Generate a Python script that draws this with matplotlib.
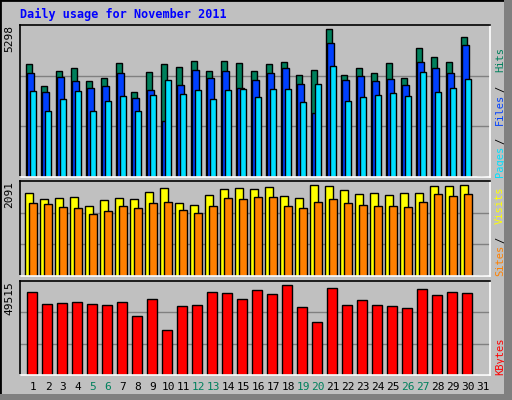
import matplotlib
matplotlib.use("Agg")
import matplotlib.pyplot as plt
from matplotlib.patches import Rectangle

# === DATA ===
days = list(range(1, 32))
weekend = [5, 6, 12, 13, 19, 20, 26, 27]
hits = [4044, 3252, 3792, 3900, 3432, 3540, 4080, 3036, 3756, 4044, 3936, 4152, 3792, 4152, 4080,
        3792, 4044, 4116, 3648, 3828, 5298, 3648, 3900, 3720, 4080, 3540, 4620, 4296, 4116, 5016, 0]
files = [3720, 3036, 3576, 3432, 3180, 3252, 3720, 2820, 3108, 2004, 3288, 3828, 3540, 3792, 3180,
         3468, 3720, 3900, 3324, 2280, 4800, 3468, 3612, 3432, 3504, 3288, 4116, 3900, 3720, 4728, 0]
pages = [3072, 2352, 2784, 3072, 2352, 2712, 2892, 2352, 2928, 3468, 2964, 3108, 2784, 3108, 3144,
         2856, 3144, 3144, 2676, 3324, 3972, 2712, 2856, 2928, 3000, 2892, 3756, 3036, 3180, 3504, 0]
visits = [1908, 1771, 1794, 1816, 1611, 1748, 1794, 1771, 1930, 2022, 1680, 1634, 1862, 1999, 2022,
          1999, 2044, 1839, 1794, 2090, 2067, 1976, 1885, 1908, 1862, 1908, 1908, 2067, 2067, 2091, 0]
sites = [1680, 1657, 1588, 1566, 1429, 1497, 1611, 1566, 1680, 1702, 1520, 1452, 1611, 1794, 1771,
         1816, 1816, 1611, 1566, 1702, 1771, 1680, 1634, 1611, 1611, 1588, 1702, 1885, 1839, 1885, 0]
kbytes = [45713, 38638, 39182, 39727, 38638, 38094, 39727, 32108, 41359, 24489, 37550, 38094, 45713,
          45169, 41359, 46801, 44624, 49515, 37006, 28843, 47890, 38094, 40815, 38094, 37550, 36461,
          47345, 44080, 45713, 45169, 0]

C_HITS, C_FILES, C_PAGES = "#00805C", "#0040FF", "#00E0FF"
C_VISITS, C_SITES, C_KB = "#FFFF00", "#FF8000", "#FF0000"
BG = "#C0C0C0"
MONO = "DejaVu Sans Mono"

W, H = 512, 400
fig = plt.figure(figsize=(W / 100, H / 100), dpi=100, facecolor=BG)
fig.patches.append(Rectangle((0, 0), 1, 1, transform=fig.transFigure, fill=False,
                             edgecolor="black", lw=2))
fig.patches.append(Rectangle((504 / W, 0), 8 / W, 1, transform=fig.transFigure,
                             color="#808080", lw=0))
fig.patches.append(Rectangle((0, 0), 1, 6 / H, transform=fig.transFigure,
                             color="#808080", lw=0))


def make_ax(top, bottom):
    ax = fig.add_axes([20 / W, 1 - bottom / H, 470 / W, (bottom - top) / H])
    ax.set_facecolor(BG)
    ax.set_xlim(1 - 13 / 15, 1 - 13 / 15 + 470 / 15)
    for s in ("top", "left"):
        ax.spines[s].set_color("black")
    for s in ("bottom", "right"):
        ax.spines[s].set_color("white")
    for s in ax.spines.values():
        s.set_linewidth(1.2)
    ax.set_xticks([])
    ax.tick_params(axis="y", length=0, labelleft=False)
    ax.grid(axis="y", color="#808080", lw=1)
    ax.set_axisbelow(True)
    return ax


bk = dict(edgecolor="black", linewidth=1, align="edge")

# top panel
ax1 = make_ax(25, 177)
top1 = max(hits) * 152 / 147.7
ax1.set_ylim(0, top1)
ax1.set_yticks([top1 / 3, 2 * top1 / 3])
ax1.bar([d - 0.5 for d in days], hits, 0.45, color=C_HITS, **bk)
ax1.bar([d - 0.37 for d in days], files, 0.45, color=C_FILES, **bk)
ax1.bar([d - 0.23 for d in days], pages, 0.45, color=C_PAGES, **bk)

# middle panel
ax2 = make_ax(181, 276)
top2 = max(visits) * 95.3 / 91.7
ax2.set_ylim(0, top2)
ax2.set_yticks([top2 / 3, 2 * top2 / 3])
ax2.bar([d - 0.51 for d in days], visits, 0.5, color=C_VISITS, **bk)
ax2.bar([d - 0.25 for d in days], sites, 0.5, color=C_SITES, **bk)

# bottom panel
ax3 = make_ax(281, 375)
top3 = max(kbytes) * 94.3 / 90.7
ax3.set_ylim(0, top3)
ax3.set_yticks([top3 / 3, 2 * top3 / 3])
ax3.bar([d - 0.42 for d in days], kbytes, 0.67, color=C_KB, **bk)

# max labels on the left
for ax, val in ((ax1, max(hits)), (ax2, max(visits)), (ax3, max(kbytes))):
    ax.text(-6 / 470, 1.0, str(val), transform=ax.transAxes, rotation=90, ha="right",
            va="top", fontsize=8, family=MONO)

# day labels
for d in days:
    ax3.text(d, -0.13, str(d), transform=ax3.get_xaxis_transform(), ha="center", va="center",
             fontsize=8, family=MONO, color=C_HITS if d in weekend else "black")

fig.text(20 / W, 1 - 14 / H, "Daily usage for November 2011", color="#0000FF",
         fontsize=8.5, family=MONO, weight="bold", va="center")


def side_label(ax, parts):
    # parts drawn bottom to top, one text per coloured piece
    y = 0.0
    for txt, col in parts:
        ax.text(1 + 10 / 470, y, txt.strip(), transform=ax.transAxes, rotation=90,
                ha="center", va="bottom", fontsize=7.5, family=MONO, color=col)
        y += (len(txt) * 6.3 + 1) / ax.bbox.height


side_label(ax1, [("Pages", C_PAGES), (" / ", "black"), ("Files", C_FILES),
                 (" / ", "black"), ("Hits", C_HITS)])
side_label(ax2, [("Sites", C_SITES), (" / ", "black"), ("Visits", C_VISITS)])
side_label(ax3, [("KBytes", C_KB)])

fig.savefig("out.png", dpi=100, facecolor=BG)
